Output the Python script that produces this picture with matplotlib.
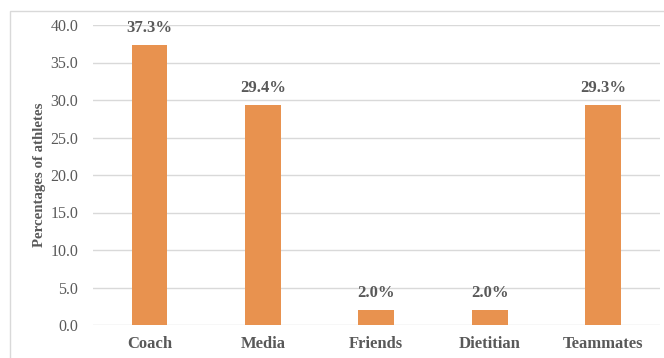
import matplotlib.pyplot as plt
from matplotlib.patches import Rectangle

categories = ['Coach', 'Media', 'Friends', 'Dietitian', 'Teammates']
values = [37.3, 29.4, 2.0, 2.0, 29.3]

bar_color = '#E8924F'
text_grey = '#595959'

plt.rcParams['font.family'] = ['Liberation Serif', 'DejaVu Serif']

fig = plt.figure(figsize=(6.64, 3.58), dpi=100)
ax = fig.add_axes([92.8 / 664, 33 / 358, 567 / 664, 300 / 358])

x = range(len(categories))
bars = ax.bar(x, values, width=0.315, color=bar_color, zorder=3)
for b, v in zip(bars, values):
    ax.text(b.get_x() + b.get_width() / 2, v + 1.2, f'{v:.1f}%', ha='center', va='bottom',
            fontsize=12, fontweight='bold', color=text_grey)

ax.set_xlim(-0.5, len(categories) - 0.5)
ax.set_ylim(0, 40)
ax.set_yticks([0, 5, 10, 15, 20, 25, 30, 35, 40])
ax.set_yticklabels([f'{t:.1f}' for t in ax.get_yticks()], fontsize=11.5, color=text_grey)
ax.set_xticks(list(x))
ax.set_xticklabels(categories, fontsize=12, fontweight='bold', color=text_grey)
ax.tick_params(axis='both', length=0)
ax.tick_params(axis='x', pad=8)
ax.tick_params(axis='y', pad=10.5)
ax.grid(axis='y', color='#D9D9D9', linewidth=1, zorder=0)
for s in ax.spines.values():
    s.set_visible(False)
ax.set_ylabel('Percentages of athletes', fontsize=10.7, fontweight='bold', color=text_grey, labelpad=3)

# light frame around the chart area
fig.patches.append(Rectangle((10 / 664, -10 / 358), 670 / 664, 357 / 358, transform=fig.transFigure,
                             fill=False, edgecolor='#D9D9D9', linewidth=1))

fig.savefig('out.png', dpi=100)
